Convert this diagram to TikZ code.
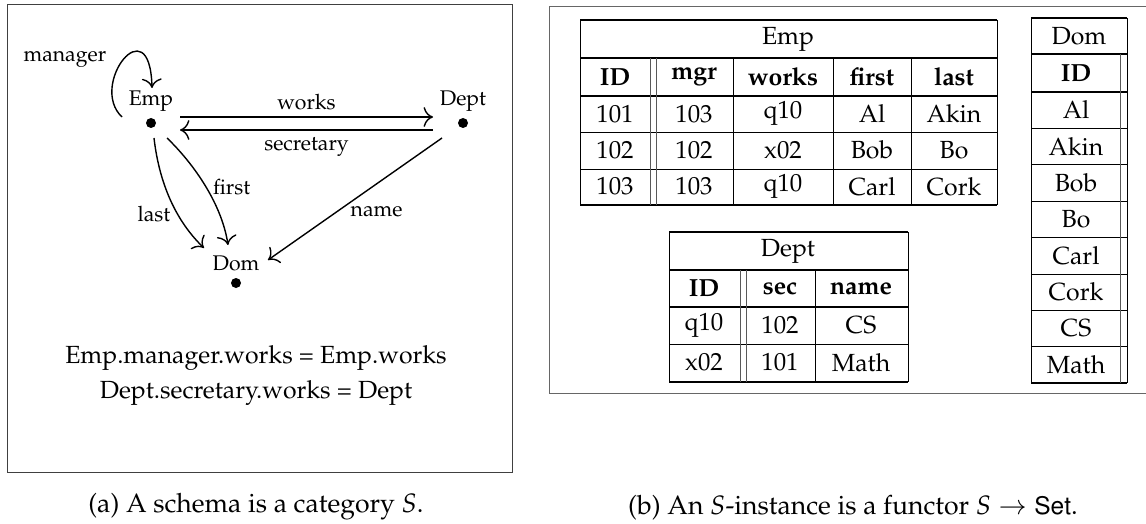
\documentclass[tikz,border=0pt]{standalone}
\usepackage[T1]{fontenc}
\usepackage{mathpazo}
\usepackage[scaled=0.92]{helvet}
\usetikzlibrary{arrows.meta,calc}

\begin{document}
\begin{tikzpicture}[->,>={To[scale=1.5]},x=0.5pt,y=-0.5pt,line width=0.7pt,
    every node/.style={font=\fontsize{10.6}{13}\selectfont}]
  \tikzstyle{obj}=[circle,fill,inner sep=0pt,minimum size=5pt]
  \tikzstyle{frame}=[-,draw=black!75,line width=0.5pt]
  \tikzstyle{txt}=[font=\fontsize{12.4}{15}\selectfont]
  \tikzstyle{capt}=[font=\fontsize{13.3}{16}\selectfont]
  \tikzstyle{cell}=[inner sep=0pt,font=\fontsize{12.4}{15}\selectfont]
  \tikzstyle{hd}=[cell,font=\fontsize{12.4}{15}\selectfont\bfseries]
  \tikzstyle{rule}=[-,line width=0.8pt]
  \tikzstyle{hair}=[-,line width=0.4pt]
  \tikzstyle{dbl}=[-,line width=0.4pt,black!65]

  \useasboundingbox (0,0) rectangle (1146,524);

  % (a) the schema S
  \draw[frame] (7,5) rectangle (512,472);

  \node[obj] (emp) at (151,123) {};
  \node[obj] (dept) at (463,123) {};
  \node[obj] (dom) at (236,283) {};
  \node (emp-l) at (151,101) {Emp};
  \node (dept-l) at (463,101) {Dept};
  \node (dom-l) at (236,263) {Dom};

  \path ([shift={(29,-6)}]emp.center) edge node[above] {works}
    ([shift={(-30,-6)}]dept.center) ([shift={(-30,7)}]dept.center) edge
    node[below] {secretary} ([shift={(29,7)}]emp.center)
    ([shift={(-21,15)}]dept.center) edge node[pos=.54,anchor=north west,
    inner sep=1pt] {name} ([shift={(32,-23)}]dom.center);

  \draw ([shift={(-29,-6)}]emp.center) .. controls (88,85) and (150,5) ..
    node[pos=.5,left=5pt] {manager} ([shift={(1,-35)}]emp.center);
  \draw ([shift={(3,15)}]emp.center) .. controls (160,190) and (180,225) ..
    node[pos=.6,left] {last} ([shift={(-32,-35)}]dom.center);
  \draw ([shift={(16,15)}]emp.center) .. controls (195,165) and (222,205) ..
    node[pos=.5,right] {first} ([shift={(-8,-38)}]dom.center);

  \node[txt] (eq-1) at (256,358) {Emp.manager.works = Emp.works};
  \node[txt] (eq-2) at (256,393) {Dept.secretary.works = Dept};
  \node[capt] (cap-a) at (256,507) {(a) A schema is a category $S$.};

  % (b) an instance
  \draw[frame,draw=black!60] (1160,7) -- (549,7) -- (549,393) -- (1160,393);

  % Emp
  \node[cell] (emp-t) at (788,39) {Emp};
  \foreach \t/\x [count=\i] in {ID/615,mgr/694,works/783,first/872,last/954}
    \node[hd] (emp-h\i) at (\x,77) {\t};
  \foreach \a/\b/\c/\d/\e [count=\i] in
      {101/103/q10/Al/Akin,102/102/x02/Bob/Bo,103/103/q10/Carl/Cork} {
    \node[cell] (emp-\i-1) at (615,{77.5+36.3*\i}) {\a};
    \node[cell] (emp-\i-2) at (694,{77.5+36.3*\i}) {\b};
    \node[cell] (emp-\i-3) at (783,{77.5+36.3*\i}) {\c};
    \node[cell] (emp-\i-4) at (872,{77.5+36.3*\i}) {\d};
    \node[cell] (emp-\i-5) at (954,{77.5+36.3*\i}) {\e};
  }
  \draw[rule] (580,20) -- (997,20) (580,58) -- (997,58) (580,96) -- (997,96)
    (580,205) -- (997,205);
  \draw[hair] (580,132) -- (997,132) (580,169) -- (997,169);
  \draw[hair] (580,20) -- (580,205) (997,20) -- (997,205) (733,58) -- (733,205)
    (833,58) -- (833,205) (911,58) -- (911,205);
  \draw[dbl] (650,58) -- (650,205) (656,58) -- (656,205);

  % Dept
  \node[cell] (dept-t) at (788,251) {Dept};
  \foreach \t/\x [count=\i] in {ID/704,sec/780,name/861}
    \node[hd] (dept-h\i) at (\x,288.5) {\t};
  \foreach \a/\b/\c [count=\i] in {q10/102/CS,x02/101/Math} {
    \node[cell] (dept-\i-1) at (704,{288.5+37*\i}) {\a};
    \node[cell] (dept-\i-2) at (780,{288.5+37*\i}) {\b};
    \node[cell] (dept-\i-3) at (861,{288.5+37*\i}) {\c};
  }
  \draw[rule] (669,232) -- (908,232) (669,270) -- (908,270) (669,307) -- (908,307)
    (669,382) -- (908,382);
  \draw[hair] (669,344) -- (908,344);
  \draw[hair] (669,232) -- (669,382) (908,232) -- (908,382) (815,270) -- (815,382);
  \draw[dbl] (740,270) -- (740,382) (746,270) -- (746,382);

  % Dom
  \node[cell] (dom-t) at (1079,36) {Dom};
  \node[hd] (dom-h1) at (1076,73) {ID};
  \foreach \a [count=\i] in {Al,Akin,Bob,Bo,Carl,Cork,CS,Math}
    \node[cell] (dom-\i-1) at (1076,{73.5+36.4*\i}) {\a};
  \draw[rule] (1031,18) -- (1127,18) (1031,54) -- (1127,54) (1031,92) -- (1127,92)
    (1031,383) -- (1127,383);
  \foreach \i in {1,...,7}
    \draw[hair] (1031,{92+36.4*\i}) -- (1127,{92+36.4*\i});
  \draw[hair] (1031,18) -- (1031,383) (1127,18) -- (1127,383);
  \draw[dbl] (1120,54) -- (1120,383);

  \node[capt] (cap-b) at (853,508) {(b) An $S$-instance is a functor $S \to
    \textsf{Set}$.};
\end{tikzpicture}
\end{document}
